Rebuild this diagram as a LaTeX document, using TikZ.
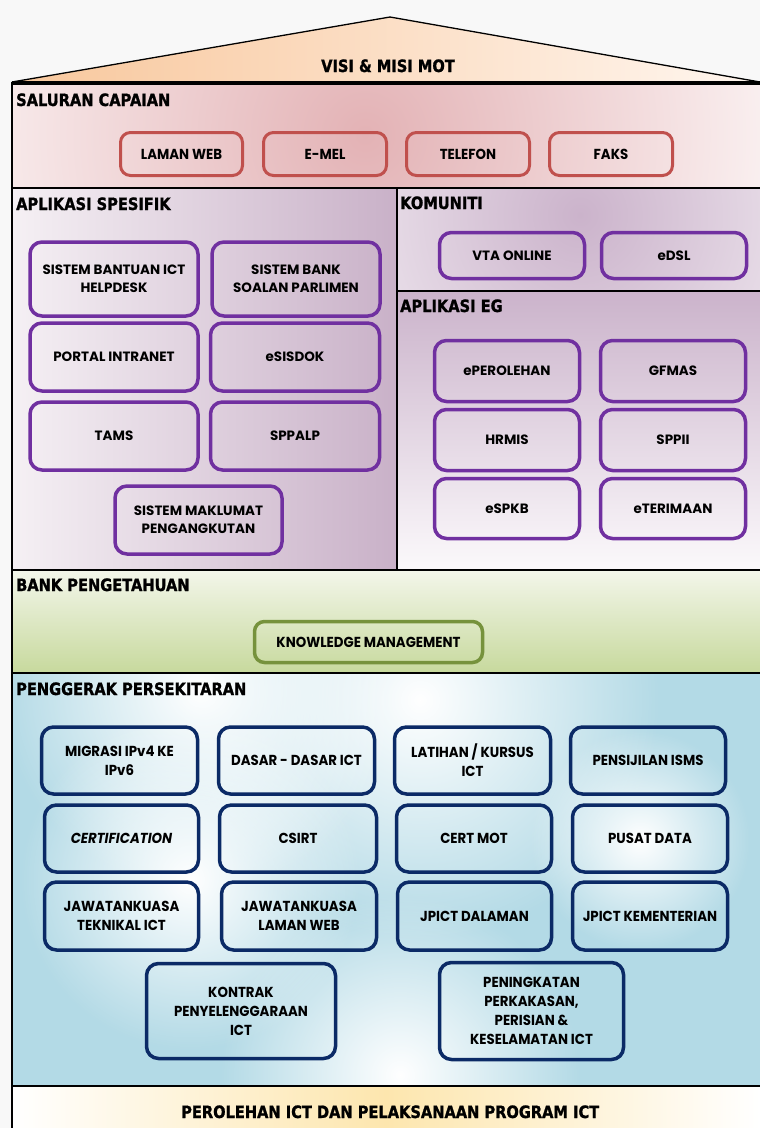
\documentclass[tikz,border=0pt]{standalone}
\usepackage{fontspec}
\setmainfont{Poppins}
\newfontfamily\titlefont{DejaVu Sans}[FakeStretch=0.86,FakeBold=1.2]
\newfontfamily\twfont{Poppins}[FakeStretch=0.92]
\newfontfamily\gothfont{Poppins}
\usetikzlibrary{fadings}
\tikzfading[name=softspot, inner color=transparent!0, outer color=transparent!100]
\definecolor{bgc}{HTML}{F8F8F8}
\definecolor{roofL}{HTML}{F8C79C}
\definecolor{roofR}{HTML}{FFF6EF}
\definecolor{pinkc}{HTML}{E3B2B5}
\definecolor{pinkw}{HTML}{FDF8F8}
\definecolor{mauveL}{HTML}{F5F0F4}
\definecolor{mauveR}{HTML}{C9B1C8}
\definecolor{mauvec}{HTML}{CBB3CB}
\definecolor{mauvew}{HTML}{FBF9FB}
\definecolor{greenT}{HTML}{F3F6EA}
\definecolor{greenB}{HTML}{C7D99D}
\definecolor{bluec}{HTML}{B3DAE6}
\definecolor{yelc}{HTML}{FDE6AE}
\definecolor{redc}{HTML}{C0504D}
\definecolor{purpc}{HTML}{7030A0}
\definecolor{navyc}{HTML}{0B2A66}
\definecolor{greenc}{HTML}{76923C}
\tikzset{
  panel/.style={draw=black, line width=1.5pt},
  ttl/.style={anchor=base west, inner sep=0pt, font=\titlefont\bfseries\fontsize{17}{17}\selectfont},
  redbox/.style={draw=redc, line width=3pt, rounded corners=10pt, align=center, inner sep=1pt,
    font=\twfont\bfseries\fontsize{14.5}{16}\selectfont},
  purpbox/.style={draw=purpc, line width=3.5pt, rounded corners=12pt, align=center, inner sep=1pt,
    font=\gothfont\bfseries\fontsize{13.5}{18}\selectfont},
  navybox/.style={draw=navyc, line width=3.5pt, rounded corners=12pt, align=center, inner sep=1pt,
    font=\twfont\bfseries\fontsize{14.5}{19}\selectfont},
  greenbox/.style={draw=greenc, line width=3.5pt, rounded corners=10pt, align=center, inner sep=1pt,
    font=\twfont\bfseries\fontsize{14.5}{16}\selectfont},
}
\begin{document}
\begin{tikzpicture}[x=1pt,y=-1pt]
\useasboundingbox (0,0) rectangle (760,1128);
\fill[bgc] (0,0) rectangle (760,1128);
% roof
\shade[left color=roofL, right color=roofR] (12,82) -- (390,17) -- (760,82) -- cycle;
\draw[line width=1.3pt] (12,82) -- (390,17) -- (760,82);
% saluran
\fill[pinkw] (12,82) rectangle (760,188);
\begin{scope}
\clip (12,82) rectangle (760,188);
\shade[inner color=pinkc, outer color=pinkw] (365,135) circle (460pt);
\end{scope}
% aplikasi spesifik
\shade[left color=mauveL, right color=mauveR] (12,188) rectangle (397,570);
% komuniti
\fill[white] (397,188) rectangle (760,291);
\begin{scope}
\clip (397,188) rectangle (760,291);
\shade[inner color=mauvec, outer color=white] (580,215) circle (380pt);
\end{scope}
% aplikasi EG
\shade[top color=mauvec, bottom color=mauvew] (397,291) rectangle (760,570);
% bank
\shade[top color=greenT, bottom color=greenB] (12,570) rectangle (760,673);
% penggerak
\fill[bluec] (12,673) rectangle (760,1086);
\begin{scope}
\clip (12,673) rectangle (760,1086);
\fill[white, path fading=softspot] (420,700) circle (240pt);
\fill[white, path fading=softspot] (200,690) circle (200pt);
\fill[white, path fading=softspot] (190,880) circle (170pt);
\fill[white, path fading=softspot] (400,1075) circle (180pt);
\fill[white, path fading=softspot] (640,840) circle (110pt);
\end{scope}
% perolehan
\shade[left color=white, right color=white, middle color=yelc] (12,1086) rectangle (760,1128);
% panel lines
\draw[panel] (12,82) -- (760,82);
\draw[panel] (12,84) -- (760,84);
\draw[panel] (12,82) -- (12,1128);
\draw[panel] (12,188) -- (760,188);
\draw[panel] (397,188) -- (397,570);
\draw[panel] (397,291) -- (760,291);
\draw[panel] (12,570) -- (760,570);
\draw[panel] (12,673) -- (760,673);
\draw[panel] (12,1086) -- (760,1086);
% titles
\node[ttl] (tvisi) at (321,72) {VISI \& MISI MOT};
\node[ttl] (tsal) at (16,106) {SALURAN CAPAIAN};
\node[ttl] (tspe) at (16,210) {APLIKASI SPESIFIK};
\node[ttl] (tkom) at (400,209) {KOMUNITI};
\node[ttl] (teg) at (400,312) {APLIKASI EG};
\node[ttl] (tbank) at (16,591) {BANK PENGETAHUAN};
\node[ttl] (tpeng) at (16,695) {PENGGERAK PERSEKITARAN};
\node[ttl] (tperol) at (181,1118) {PEROLEHAN ICT DAN PELAKSANAAN PROGRAM ICT};
% saluran boxes
\node[redbox, minimum width=122pt, minimum height=43pt] (web) at (181.5,154) {LAMAN WEB};
\node[redbox, minimum width=123pt, minimum height=43pt] (emel) at (325,154) {E-MEL};
\node[redbox, minimum width=123pt, minimum height=43pt] (tel) at (468,154) {TELEFON};
\node[redbox, minimum width=123pt, minimum height=43pt] (faks) at (611,154) {FAKS};
% aplikasi spesifik boxes
\node[purpbox, minimum width=168pt, minimum height=74pt] (help) at (114,279) {SISTEM BANTUAN ICT\\HELPDESK};
\node[purpbox, minimum width=168pt, minimum height=74pt] (bank) at (296,279) {SISTEM BANK\\SOALAN PARLIMEN};
\node[purpbox, minimum width=168pt, minimum height=68pt] (portal) at (114,357) {PORTAL INTRANET};
\node[purpbox, minimum width=169pt, minimum height=68pt] (esis) at (295,357) {eSISDOK};
\node[purpbox, minimum width=168pt, minimum height=68pt] (tams) at (114,436) {TAMS};
\node[purpbox, minimum width=169pt, minimum height=68pt] (sppalp) at (295,436) {SPPALP};
\node[purpbox, minimum width=167pt, minimum height=68pt] (smp) at (198.5,520) {SISTEM MAKLUMAT\\PENGANGKUTAN};
% komuniti boxes
\node[purpbox, minimum width=145pt, minimum height=46pt] (vta) at (512,255.5) {VTA ONLINE};
\node[purpbox, minimum width=145pt, minimum height=46pt] (edsl) at (674,255.5) {eDSL};
% aplikasi EG boxes
\node[purpbox, minimum width=145pt, minimum height=61pt] (eper) at (507,371) {ePEROLEHAN};
\node[purpbox, minimum width=145pt, minimum height=61pt] (gfmas) at (673,371) {GFMAS};
\node[purpbox, minimum width=145pt, minimum height=61pt] (hrmis) at (507,440) {HRMIS};
\node[purpbox, minimum width=145pt, minimum height=61pt] (sppii) at (673,440) {SPPII};
\node[purpbox, minimum width=145pt, minimum height=60pt] (espkb) at (507,508.5) {eSPKB};
\node[purpbox, minimum width=145pt, minimum height=60pt] (eter) at (673,508.5) {eTERIMAAN};
% bank box
\node[greenbox, minimum width=228pt, minimum height=41pt] (km) at (368.5,642) {KNOWLEDGE MANAGEMENT};
% penggerak boxes
\node[navybox, minimum width=156pt, minimum height=67pt] (ipv6) at (119.5,760.5) {MIGRASI IPv4 KE\\IPv6};
\node[navybox, minimum width=156pt, minimum height=67pt] (dasar) at (296.5,760.5) {DASAR - DASAR ICT};
\node[navybox, minimum width=156pt, minimum height=67pt] (latih) at (472.5,760.5) {LATIHAN / KURSUS\\ICT};
\node[navybox, minimum width=155pt, minimum height=67pt] (isms) at (648,760.5) {PENSIJILAN ISMS};
\node[navybox, minimum width=154pt, minimum height=67pt] (cert) at (121.5,838.5) {\itshape CERTIFICATION};
\node[navybox, minimum width=157pt, minimum height=67pt] (csirt) at (298,838.5) {CSIRT};
\node[navybox, minimum width=155pt, minimum height=67pt] (certmot) at (474,838.5) {CERT MOT};
\node[navybox, minimum width=155pt, minimum height=67pt] (pusat) at (650,838.5) {PUSAT DATA};
\node[navybox, minimum width=154pt, minimum height=68pt] (jtek) at (121.5,916) {JAWATANKUASA\\TEKNIKAL ICT};
\node[navybox, minimum width=155pt, minimum height=68pt] (jweb) at (299,916) {JAWATANKUASA\\LAMAN WEB};
\node[navybox, minimum width=154pt, minimum height=68pt] (jdal) at (474.5,916) {JPICT DALAMAN};
\node[navybox, minimum width=155pt, minimum height=68pt] (jkem) at (650,916) {JPICT KEMENTERIAN};
\node[navybox, minimum width=189pt, minimum height=95pt] (kontrak) at (241,1011) {KONTRAK\\PENYELENGGARAAN\\ICT};
\node[navybox, minimum width=184pt, minimum height=97pt] (tingkat) at (531.5,1011) {PENINGKATAN\\PERKAKASAN,\\PERISIAN \&\\KESELAMATAN ICT};
\end{tikzpicture}
\end{document}
